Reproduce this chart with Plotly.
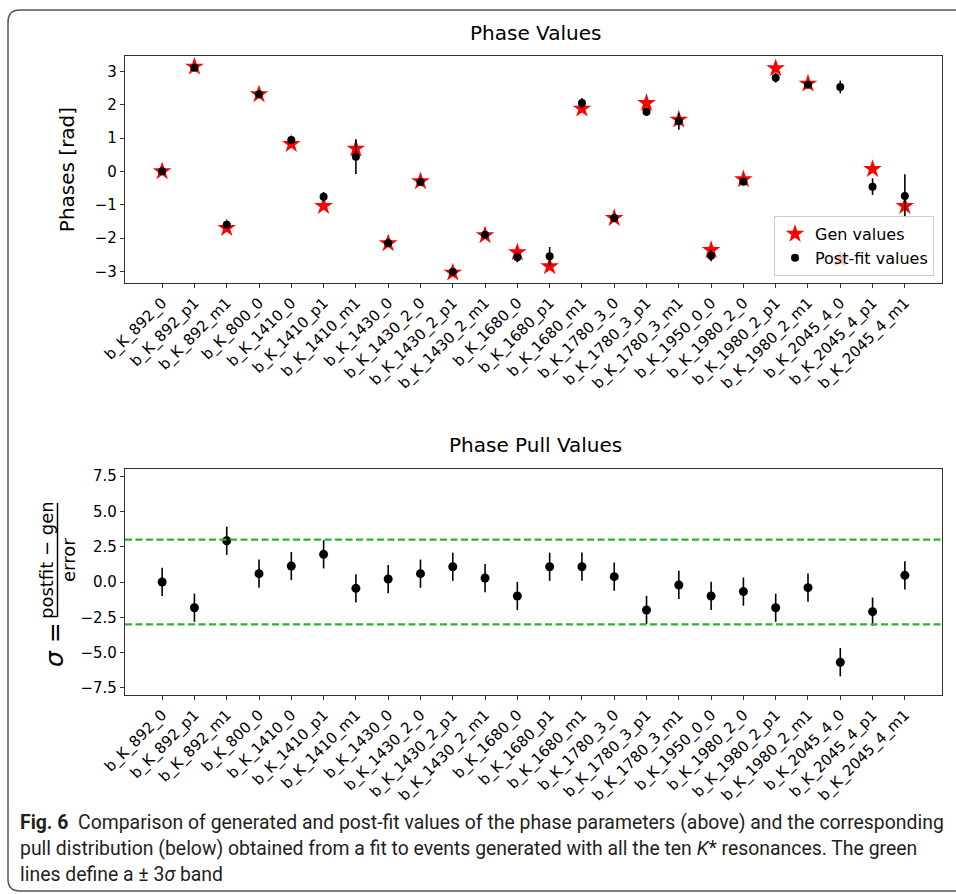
import plotly.graph_objects as go

W, H = 956, 894

categories = ["b_K_892_0", "b_K_892_p1", "b_K_892_m1", "b_K_800_0", "b_K_1410_0",
              "b_K_1410_p1", "b_K_1410_m1", "b_K_1430_0", "b_K_1430_2_0", "b_K_1430_2_p1",
              "b_K_1430_2_m1", "b_K_1680_0", "b_K_1680_p1", "b_K_1680_m1", "b_K_1780_3_0",
              "b_K_1780_3_p1", "b_K_1780_3_m1", "b_K_1950_0_0", "b_K_1980_2_0", "b_K_1980_2_p1",
              "b_K_1980_2_m1", "b_K_2045_4_0", "b_K_2045_4_p1", "b_K_2045_4_m1"]

gen_values = [0.0, 3.14, -1.70, 2.31, 0.82, -1.04, 0.68, -2.16, -0.30, -3.04, -1.92, -2.43,
              -2.85, 1.88, -1.40, 2.05, 1.55, -2.36, -0.24, 3.09, 2.63, -2.64, 0.07, -1.04]
postfit_values = [0.0, 3.11, -1.60, 2.31, 0.94, -0.76, 0.44, -2.15, -0.32, -3.01, -1.90, -2.58,
                  -2.55, 2.05, -1.40, 1.79, 1.50, -2.53, -0.31, 2.81, 2.60, 2.53, -0.46, -0.74]
postfit_errors = [0.03, 0.03, 0.04, 0.04, 0.10, 0.14, 0.52, 0.04, 0.05, 0.05, 0.05, 0.15,
                  0.28, 0.15, 0.04, 0.13, 0.25, 0.17, 0.05, 0.15, 0.08, 0.19, 0.25, 0.65]

pull_values = [0.00, -1.82, 2.92, 0.59, 1.13, 1.96, -0.45, 0.21, 0.59, 1.08, 0.28, -0.99,
               1.08, 1.08, 0.38, -1.98, -0.21, -0.99, -0.68, -1.82, -0.40, -5.68, -2.10, 0.47]
pull_errors = [1.0] * 24
band = [3.0, -3.0]

top_yticks = [-3, -2, -1, 0, 1, 2, 3]
bot_yticks = [-7.5, -5.0, -2.5, 0.0, 2.5, 5.0, 7.5]


def px(x):
    return x / W


def py(y):
    return 1 - y / H


fig = go.Figure()

fig.add_trace(go.Scatter(x=categories, y=gen_values, mode="markers", name="Gen values",
                         marker=dict(symbol="star", color="red", size=14, line=dict(width=0)),
                         xaxis="x", yaxis="y"))
fig.add_trace(go.Scatter(x=categories, y=postfit_values, mode="markers", name="Post-fit values",
                         marker=dict(symbol="circle", color="black", size=8),
                         error_y=dict(type="data", array=postfit_errors, color="black",
                                      thickness=1.6, width=0),
                         xaxis="x", yaxis="y"))
fig.add_trace(go.Scatter(x=categories, y=pull_values, mode="markers", showlegend=False,
                         marker=dict(symbol="circle", color="black", size=9),
                         error_y=dict(type="data", array=pull_errors, color="black",
                                      thickness=1.6, width=0),
                         xaxis="x2", yaxis="y2"))

for b in band:
    fig.add_shape(type="line", xref="x2 domain", yref="y2", x0=0, x1=1, y0=b, y1=b,
                  line=dict(color="#2cb42c", width=2.2, dash="7px,3.5px"))

axis_common = dict(showline=True, mirror=True, linecolor="#333", linewidth=1.2,
                   ticks="outside", ticklen=4, tickcolor="#333", showgrid=False,
                   zeroline=False, automargin=False,
                   tickfont=dict(family="DejaVu Sans", size=15, color="black"))

fig.update_layout(
    width=W, height=H, autosize=False,
    margin=dict(l=0, r=0, t=0, b=0, pad=0, autoexpand=False),
    paper_bgcolor="white", plot_bgcolor="white",
    font=dict(family="DejaVu Sans", color="black"),
    xaxis=dict(domain=[px(125), px(942)], anchor="y", type="category",
               range=[-1.15, 24.15], tickangle=-45, **axis_common),
    yaxis=dict(domain=[py(283), py(56)], anchor="x", range=[-3.35, 3.46],
               tickvals=top_yticks, ticktext=["−3", "−2", "−1", "0", "1", "2", "3"],
               title=dict(text="Phases [rad]", font=dict(size=20), standoff=14),
               **axis_common),
    xaxis2=dict(domain=[px(125), px(942)], anchor="y2", type="category",
                range=[-1.15, 24.15], tickangle=-45, **axis_common),
    yaxis2=dict(domain=[py(695), py(469)], anchor="x2", range=[-8, 8],
                tickvals=bot_yticks, ticktext=["−7.5", "−5.0", "−2.5", "0.0", "2.5", "5.0", "7.5"],
                **axis_common),
    legend=dict(x=px(934), y=py(276), xanchor="right", yanchor="bottom",
                bgcolor="rgba(255,255,255,0.8)", bordercolor="#cccccc", borderwidth=1,
                font=dict(family="DejaVu Sans", size=16, color="black"),
                tracegroupgap=2),
    showlegend=True,
)

ann = []
ann.append(dict(text="Phase Values", x=px(535), y=py(33), xref="paper", yref="paper",
                showarrow=False, font=dict(size=20, family="DejaVu Sans"),
                xanchor="center", yanchor="middle"))
ann.append(dict(text="Phase Pull Values", x=px(535), y=py(445), xref="paper", yref="paper",
                showarrow=False, font=dict(size=20, family="DejaVu Sans"),
                xanchor="center", yanchor="middle"))
# bottom y-axis label: sigma = (postfit - gen)/error
ann.append(dict(text="<i>σ</i> =", x=px(54), y=py(645), xref="paper", yref="paper",
                showarrow=False, textangle=-90, font=dict(size=25, family="DejaVu Sans"),
                xanchor="center", yanchor="middle"))
ann.append(dict(text="postfit − gen", x=px(46), y=py(560), xref="paper", yref="paper",
                showarrow=False, textangle=-90, font=dict(size=18, family="DejaVu Sans"),
                xanchor="center", yanchor="middle"))
ann.append(dict(text="error", x=px(68), y=py(560), xref="paper", yref="paper",
                showarrow=False, textangle=-90, font=dict(size=18, family="DejaVu Sans"),
                xanchor="center", yanchor="middle"))

cap_font = "Roboto, 'Liberation Sans', sans-serif"
cap_lines = [
    "<b>Fig. 6</b>  Comparison of generated and post-fit values of the phase parameters (above) and the corresponding",
    "pull distribution (below) obtained from a fit to events generated with all the ten <i>K</i>* resonances. The green",
    "lines define a ± 3<i>σ</i> band",
]
cap_y = [822, 848, 874]
for t, yy in zip(cap_lines, cap_y):
    ann.append(dict(text=t, x=px(18), y=py(yy), xref="paper", yref="paper", showarrow=False,
                    xanchor="left", yanchor="middle", align="left",
                    font=dict(size=19.4, family=cap_font, color="#231f20")))
fig.update_layout(annotations=ann)

# fraction bar of y label
fig.add_shape(type="line", xref="paper", yref="paper", x0=px(57.5), x1=px(57.5),
              y0=py(503), y1=py(617), line=dict(color="black", width=1.5))

# rounded frame around figure + caption
r = 12
path = (f"M {px(970)},{py(10)} L {px(8 + r)},{py(10)} Q {px(8)},{py(10)} {px(8)},{py(10 + r)} "
        f"L {px(8)},{py(891 - r)} Q {px(8)},{py(891)} {px(8 + r)},{py(891)} L {px(970)},{py(891)}")
fig.add_shape(type="path", xref="paper", yref="paper", path=path,
              line=dict(color="#555", width=1.5))

fig.write_html("out.html")
